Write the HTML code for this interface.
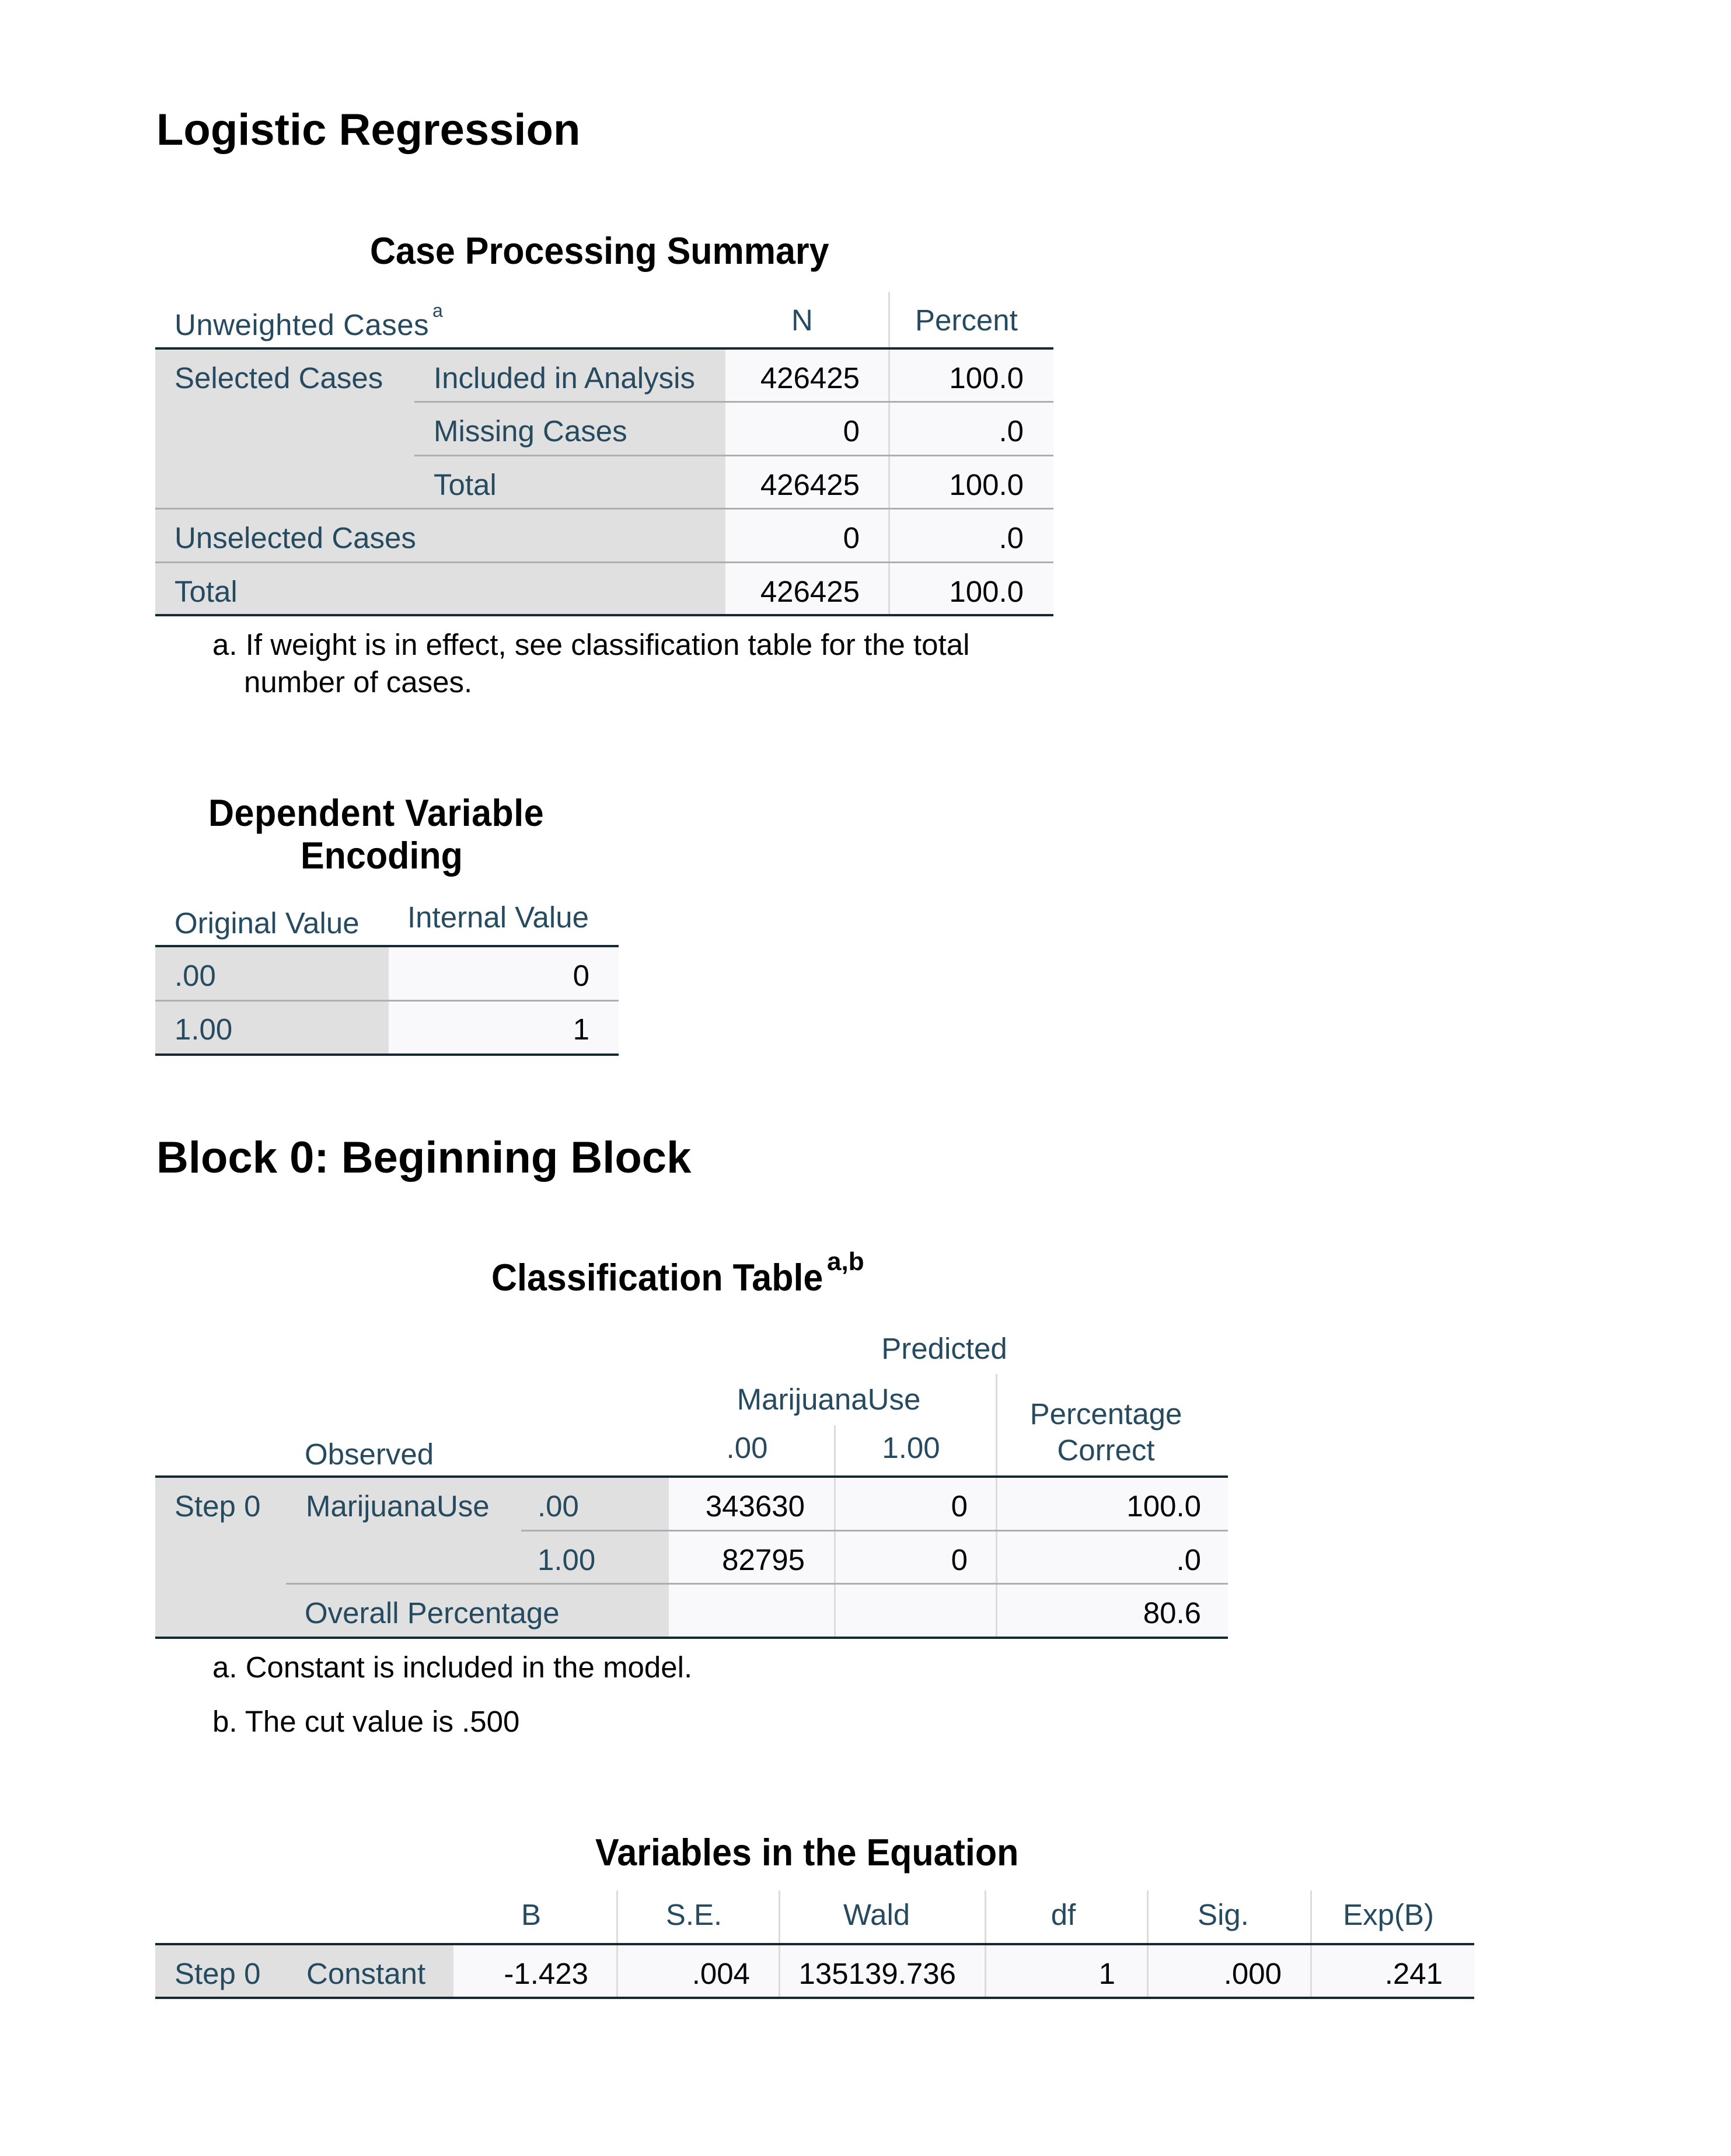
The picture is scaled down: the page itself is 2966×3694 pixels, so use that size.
<!DOCTYPE html>
<html>
<head>
<meta charset="utf-8">
<style>
html,body{margin:0;padding:0;background:#fff;}
body{width:2966px;height:3694px;position:relative;overflow:hidden;font-family:"Liberation Sans",Arial,sans-serif;}
.t{position:absolute;white-space:nowrap;line-height:1;}
.r{font-size:51px;color:#264a60;}
.v{font-size:51px;color:#010205;}
.f{font-size:51px;color:#010205;}
.h1{font-size:76px;font-weight:bold;color:#000;}
.h2{font-size:61px;font-weight:bold;color:#000;transform:scaleY(1.06);transform-origin:0 52px;}
.b{position:absolute;}
.gray{background:#e0e0e0;}
.data{background:#f9f9fb;}
.thick{background:#152935;height:4px;}
.sep{background:#aeaeae;height:3px;}
.vl{background:#dcdcdc;width:3px;}
.c{text-align:center;}
.rt{text-align:right;}
</style>
</head>
<body>

<!-- Title -->
<div class="t h1" style="left:268px;top:185px;">Logistic Regression</div>

<!-- Case Processing Summary -->
<div class="t h2" style="left:634px;top:401px;">Case Processing Summary</div>

<div class="b gray" style="left:266px;top:599px;width:977px;height:453px;"></div>
<div class="b data" style="left:1243px;top:599px;width:562px;height:453px;"></div>
<div class="b vl" style="left:1522px;top:500px;height:554px;"></div>
<div class="b thick" style="left:266px;top:595px;width:1539px;"></div>
<div class="b sep" style="left:710px;top:687px;width:1095px;"></div>
<div class="b sep" style="left:710px;top:779px;width:1095px;"></div>
<div class="b sep" style="left:266px;top:870px;width:1539px;"></div>
<div class="b sep" style="left:266px;top:962px;width:1539px;"></div>
<div class="b thick" style="left:266px;top:1052px;width:1539px;"></div>

<div class="t r" style="left:299px;top:531px;letter-spacing:0.5px;">Unweighted Cases</div>
<div class="t r" style="left:741px;top:516px;font-size:32px;">a</div>
<div class="t r" style="left:1356px;top:523px;">N</div>
<div class="t r" style="left:1568px;top:523px;">Percent</div>

<div class="t r" style="left:299px;top:622px;">Selected Cases</div>
<div class="t r" style="left:743px;top:622px;">Included in Analysis</div>
<div class="t r" style="left:743px;top:713px;">Missing Cases</div>
<div class="t r" style="left:743px;top:805px;">Total</div>
<div class="t r" style="left:299px;top:896px;">Unselected Cases</div>
<div class="t r" style="left:299px;top:988px;">Total</div>

<div class="t v rt" style="right:1493px;top:622px;">426425</div>
<div class="t v rt" style="right:1493px;top:713px;">0</div>
<div class="t v rt" style="right:1493px;top:805px;">426425</div>
<div class="t v rt" style="right:1493px;top:896px;">0</div>
<div class="t v rt" style="right:1493px;top:988px;">426425</div>

<div class="t v rt" style="right:1212px;top:622px;">100.0</div>
<div class="t v rt" style="right:1212px;top:713px;">.0</div>
<div class="t v rt" style="right:1212px;top:805px;">100.0</div>
<div class="t v rt" style="right:1212px;top:896px;">.0</div>
<div class="t v rt" style="right:1212px;top:988px;">100.0</div>

<div class="t f" style="left:364px;top:1079px;">a. If weight is in effect, see classification table for the total</div>
<div class="t f" style="left:418px;top:1143px;">number of cases.</div>

<!-- Dependent Variable Encoding -->
<div class="t h2" style="left:357px;top:1364px;letter-spacing:0.5px;">Dependent Variable</div>
<div class="t h2" style="left:515px;top:1437px;">Encoding</div>

<div class="b gray" style="left:266px;top:1623px;width:400px;height:182px;"></div>
<div class="b data" style="left:666px;top:1623px;width:394px;height:182px;"></div>
<div class="b thick" style="left:266px;top:1619px;width:794px;"></div>
<div class="b sep" style="left:266px;top:1713px;width:794px;"></div>
<div class="b thick" style="left:266px;top:1805px;width:794px;"></div>

<div class="t r" style="left:299px;top:1556px;">Original Value</div>
<div class="t r" style="left:698px;top:1546px;">Internal Value</div>
<div class="t r" style="left:299px;top:1646px;">.00</div>
<div class="t r" style="left:299px;top:1738px;">1.00</div>
<div class="t v rt" style="right:1956px;top:1646px;">0</div>
<div class="t v rt" style="right:1956px;top:1738px;">1</div>

<!-- Block 0 -->
<div class="t h1" style="left:268px;top:1946px;">Block 0: Beginning Block</div>

<!-- Classification Table -->
<div class="t h2" style="left:842px;top:2160px;">Classification Table</div>
<div class="t" style="left:1417px;top:2140px;font-size:44px;font-weight:bold;color:#000;">a,b</div>

<div class="b gray" style="left:266px;top:2532px;width:880px;height:274px;"></div>
<div class="b data" style="left:1146px;top:2532px;width:958px;height:274px;"></div>
<div class="b vl" style="left:1429px;top:2442px;height:364px;"></div>
<div class="b vl" style="left:1706px;top:2354px;height:452px;"></div>
<div class="b thick" style="left:266px;top:2528px;width:1838px;"></div>
<div class="b sep" style="left:893px;top:2621px;width:1211px;"></div>
<div class="b sep" style="left:490px;top:2712px;width:1614px;"></div>
<div class="b thick" style="left:266px;top:2804px;width:1838px;"></div>

<div class="t r c" style="left:1139px;width:958px;top:2285px;">Predicted</div>
<div class="t r c" style="left:1140px;width:560px;top:2372px;">MarijuanaUse</div>
<div class="t r c" style="left:1138px;width:284px;top:2455px;">.00</div>
<div class="t r c" style="left:1423px;width:276px;top:2455px;">1.00</div>
<div class="t r c" style="left:1697px;width:396px;top:2397px;">Percentage</div>
<div class="t r c" style="left:1697px;width:396px;top:2459px;">Correct</div>
<div class="t r" style="left:522px;top:2466px;">Observed</div>

<div class="t r" style="left:299px;top:2555px;">Step 0</div>
<div class="t r" style="left:524px;top:2555px;">MarijuanaUse</div>
<div class="t r" style="left:921px;top:2555px;">.00</div>
<div class="t r" style="left:921px;top:2647px;">1.00</div>
<div class="t r" style="left:522px;top:2738px;">Overall Percentage</div>

<div class="t v rt" style="right:1587px;top:2555px;">343630</div>
<div class="t v rt" style="right:1587px;top:2647px;">82795</div>
<div class="t v rt" style="right:1308px;top:2555px;">0</div>
<div class="t v rt" style="right:1308px;top:2647px;">0</div>
<div class="t v rt" style="right:908px;top:2555px;">100.0</div>
<div class="t v rt" style="right:908px;top:2647px;">.0</div>
<div class="t v rt" style="right:908px;top:2738px;">80.6</div>

<div class="t f" style="left:364px;top:2831px;">a. Constant is included in the model.</div>
<div class="t f" style="left:364px;top:2924px;">b. The cut value is .500</div>

<!-- Variables in the Equation -->
<div class="t h2" style="left:1020px;top:3145px;">Variables in the Equation</div>

<div class="b gray" style="left:266px;top:3333px;width:511px;height:88px;"></div>
<div class="b data" style="left:777px;top:3333px;width:1749px;height:88px;"></div>
<div class="b vl" style="left:1056px;top:3239px;height:186px;"></div>
<div class="b vl" style="left:1334px;top:3239px;height:186px;"></div>
<div class="b vl" style="left:1687px;top:3239px;height:186px;"></div>
<div class="b vl" style="left:1965px;top:3239px;height:186px;"></div>
<div class="b vl" style="left:2245px;top:3239px;height:186px;"></div>
<div class="b thick" style="left:266px;top:3329px;width:2260px;"></div>
<div class="b thick" style="left:266px;top:3421px;width:2260px;"></div>

<div class="t r c" style="left:710px;width:400px;top:3255px;">B</div>
<div class="t r c" style="left:989px;width:400px;top:3255px;">S.E.</div>
<div class="t r c" style="left:1302px;width:400px;top:3255px;">Wald</div>
<div class="t r c" style="left:1622px;width:400px;top:3255px;">df</div>
<div class="t r c" style="left:1896px;width:400px;top:3255px;">Sig.</div>
<div class="t r c" style="left:2179px;width:400px;top:3255px;">Exp(B)</div>

<div class="t r" style="left:299px;top:3356px;">Step 0</div>
<div class="t r" style="left:525px;top:3356px;">Constant</div>

<div class="t v rt" style="right:1958px;top:3356px;">-1.423</div>
<div class="t v rt" style="right:1681px;top:3356px;">.004</div>
<div class="t v rt" style="right:1328px;top:3356px;">135139.736</div>
<div class="t v rt" style="right:1055px;top:3356px;">1</div>
<div class="t v rt" style="right:770px;top:3356px;">.000</div>
<div class="t v rt" style="right:494px;top:3356px;">.241</div>

</body>
</html>
